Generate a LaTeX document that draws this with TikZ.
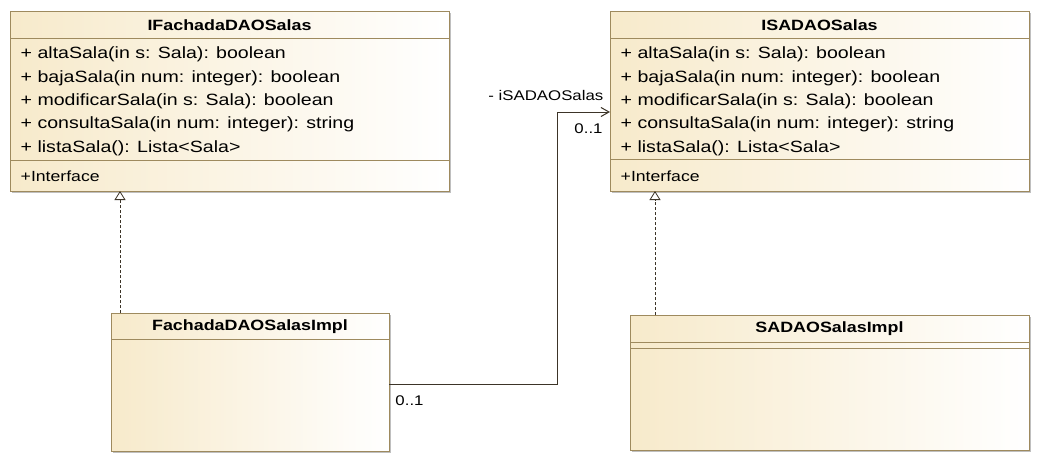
\documentclass[tikz,border=0pt]{standalone}
\usepackage{fontspec}
\setmainfont{Liberation Sans}[FakeStretch=1.2]
\usetikzlibrary{arrows.meta,shadows}
\definecolor{umlfill}{HTML}{F7EACB}
\definecolor{umlline}{HTML}{9E8A5E}
\definecolor{conn}{HTML}{3C3428}
\begin{document}
\begin{tikzpicture}[x=1pt,y=-1pt,
  umlbox/.style={draw=umlline, line width=1pt, left color=umlfill, right color=white,
    drop shadow={shadow xshift=2pt,shadow yshift=-2pt,fill=black!25,opacity=1},
    inner sep=0pt, outer sep=0pt, anchor=north west},
  sep/.style={draw=umlline, line width=1pt},
  mtxt/.style={anchor=west, inner sep=0pt, font=\fontsize{16.3}{18}\selectfont},
  itxt/.style={anchor=west, inner sep=0pt, font=\fontsize{14.7}{16}\selectfont},
  ttl/.style={inner sep=0pt, font=\fontsize{14.9}{16}\selectfont\bfseries},
  lbl/.style={inner sep=0pt, font=\fontsize{14}{16}\selectfont},
  real/.style={draw=conn, line width=0.8pt, dash pattern=on 3pt off 2pt,
    -{Triangle[open,length=9pt,width=11pt,line width=0.8pt]}},
  assoc/.style={draw=conn, line width=1pt, -{Straight Barb[length=8pt,width=9pt]}}
]
\useasboundingbox (0,0) rectangle (1041,463);
\fill[white] (0,0) rectangle (1041,463);

% IFachadaDAOSalas
\node[umlbox, minimum width=439pt, minimum height=180pt] (ifd) at (10,11) {};
\draw[sep] (ifd.west |- 0,38) -- (ifd.east |- 0,38);
\draw[sep] (ifd.west |- 0,160) -- (ifd.east |- 0,160);
\node[ttl] (ifdt) at (229.5,25) {IFachadaDAOSalas};
\node[mtxt] (ifd1) at (20.5,54.5) {+ altaSala(in s: Sala): boolean};
\node[mtxt] (ifd2) at (20.5,78) {+ bajaSala(in num: integer): boolean};
\node[mtxt] (ifd3) at (20.5,101) {+ modificarSala(in s: Sala): boolean};
\node[mtxt] (ifd4) at (20.5,124.5) {+ consultaSala(in num: integer): string};
\node[mtxt] (ifd5) at (20.5,148) {+ listaSala(): Lista<Sala>};
\node[itxt] (ifdi) at (20.5,176) {+Interface};

% ISADAOSalas
\node[umlbox, minimum width=419pt, minimum height=180pt] (isa) at (610,11) {};
\draw[sep] (isa.west |- 0,38) -- (isa.east |- 0,38);
\draw[sep] (isa.west |- 0,159.5) -- (isa.east |- 0,159.5);
\node[ttl] (isat) at (819.5,25) {ISADAOSalas};
\node[mtxt] (isa1) at (620.5,54.5) {+ altaSala(in s: Sala): boolean};
\node[mtxt] (isa2) at (620.5,78) {+ bajaSala(in num: integer): boolean};
\node[mtxt] (isa3) at (620.5,101) {+ modificarSala(in s: Sala): boolean};
\node[mtxt] (isa4) at (620.5,124.5) {+ consultaSala(in num: integer): string};
\node[mtxt] (isa5) at (620.5,148) {+ listaSala(): Lista<Sala>};
\node[itxt] (isai) at (620.5,176) {+Interface};

% FachadaDAOSalasImpl
\node[umlbox, minimum width=278pt, minimum height=138pt] (fimpl) at (111,313) {};
\draw[sep] (fimpl.west |- 0,339) -- (fimpl.east |- 0,339);
\node[ttl] (fimplt) at (250,326.5) {FachadaDAOSalasImpl};

% SADAOSalasImpl
\node[umlbox, minimum width=399pt, minimum height=135pt] (simpl) at (630,315) {};
\draw[sep] (simpl.west |- 0,342) -- (simpl.east |- 0,342);
\draw[sep] (simpl.west |- 0,348) -- (simpl.east |- 0,348);
\node[ttl] (simplt) at (829.5,329) {SADAOSalasImpl};

% realizations
\draw[real] ([xshift=9pt]fimpl.north west) -- ([xshift=110pt]ifd.south west);
\draw[real] ([xshift=25pt]simpl.north west) -- ([xshift=45pt]isa.south west);

% association
\draw[assoc] ([yshift=-2pt]fimpl.east) -| ([xshift=-53pt,yshift=-11pt]isa.west) -- ([yshift=-11pt]isa.west);
\node[lbl, anchor=east] (role) at (603.5,95) {- iSADAOSalas};
\node[lbl] (mult1) at (588.5,129) {0..1};
\node[lbl] (mult2) at (409.5,401) {0..1};
\end{tikzpicture}
\end{document}
